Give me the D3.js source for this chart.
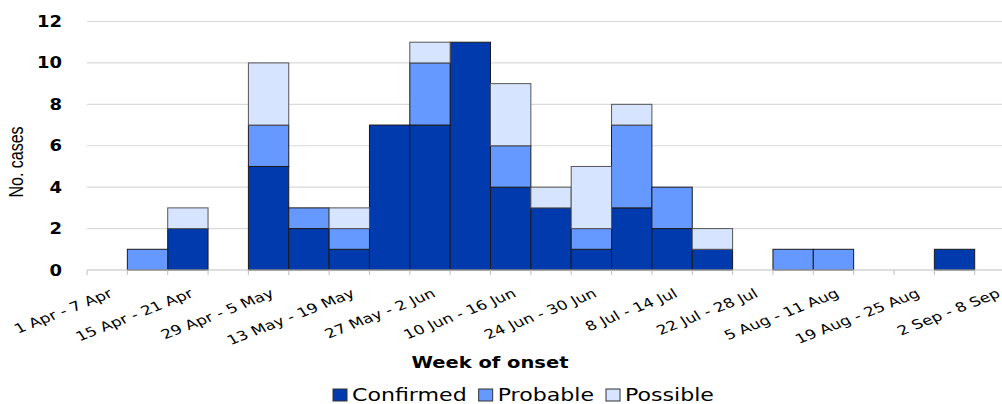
<!DOCTYPE html>
<html>
<head>
<meta charset="utf-8">
<script src="https://cdn.jsdelivr.net/npm/d3@7"></script>
<style>
  body { margin: 0; background: #fff; }
  svg { display: block; }
  text { font-family: "DejaVu Sans", Verdana, sans-serif; fill: #000; }
</style>
</head>
<body>
<svg id="chart" width="1002" height="404"></svg>
<script>
// week of onset, one entry per week
var weeks = ["1 Apr - 7 Apr","8 Apr - 14 Apr","15 Apr - 21 Apr","22 Apr - 28 Apr","29 Apr - 5 May",
  "6 May - 12 May","13 May - 19 May","20 May - 26 May","27 May - 2 Jun","3 Jun - 9 Jun",
  "10 Jun - 16 Jun","17 Jun - 23 Jun","24 Jun - 30 Jun","1 Jul - 7 Jul","8 Jul - 14 Jul",
  "15 Jul - 21 Jul","22 Jul - 28 Jul","29 Jul - 4 Aug","5 Aug - 11 Aug","12 Aug - 18 Aug",
  "19 Aug - 25 Aug","26 Aug - 1 Sep","2 Sep - 8 Sep"];
var confirmed = [0,0,2,0,5,2,1,7,7,11,4,3,1,3,2,1,0,0,0,0,0,1,0];
var probable  = [0,1,0,0,2,1,1,0,3,0,2,0,1,4,2,0,0,1,1,0,0,0,0];
var possible  = [0,0,1,0,3,0,1,0,1,0,3,1,3,1,0,1,0,0,0,0,0,0,0];
var seriesNames = ["Confirmed","Probable","Possible"];
var yTicks = [0,2,4,6,8,10,12];

var colors = {"Confirmed":"#003aad","Probable":"#6699ff","Possible":"#d6e4ff"};
var SX = 1.3; // the picture is stretched sideways

var svg = d3.select("#chart");
var plotLeft = 87, bandW = 40.35, plotTop = 21.5, plotBottom = 270;

var x = d3.scaleBand().domain(weeks).range([plotLeft, plotLeft + bandW*weeks.length]).padding(0);
var y = d3.scaleLinear().domain([0,12]).range([plotBottom, plotTop]);

var rows = weeks.map(function(w,i){
  return {week:w, Confirmed:confirmed[i], Probable:probable[i], Possible:possible[i]};
});
var stacked = d3.stack().keys(seriesNames)(rows);

// grid
svg.append("g").selectAll("line").data(yTicks.filter(function(d){return d>0;})).join("line")
  .attr("x1", plotLeft).attr("x2", x.range()[1])
  .attr("y1", function(d){return y(d);}).attr("y2", function(d){return y(d);})
  .attr("stroke", "#d9d9d9").attr("stroke-width", 1.2);

// y tick labels
svg.append("g").selectAll("text").data(yTicks).join("text")
  .attr("text-anchor","end")
  .attr("transform", function(d){return "translate(62,"+y(d)+") scale(1.2,1)";})
  .attr("dy","0.37em")
  .style("font-size","15px").style("font-weight","bold")
  .text(function(d){return d;});

// bars
svg.append("g").selectAll("g").data(stacked).join("g")
  .attr("fill", function(s){return colors[s.key];})
  .attr("stroke", function(s){return s.key=="Possible" ? "#555" : "#1a1a1a";})
  .selectAll("rect").data(function(s){return s.filter(function(d){return d[1]-d[0]>0;});}).join("rect")
  .attr("x", function(d){return x(d.data.week);})
  .attr("width", x.bandwidth())
  .attr("y", function(d){return y(d[1]);})
  .attr("height", function(d){return y(d[0])-y(d[1]);})
  .attr("stroke-width", 1);

// x axis
var xAxis = svg.append("g");
xAxis.append("line").attr("x1", plotLeft).attr("x2", x.range()[1])
  .attr("y1", plotBottom).attr("y2", plotBottom).attr("stroke","#bfbfbf").attr("stroke-width",1.2);
xAxis.selectAll("line.tick").data(d3.range(weeks.length+1)).join("line")
  .attr("class","tick")
  .attr("x1", function(i){return plotLeft + i*x.step();}).attr("x2", function(i){return plotLeft + i*x.step();})
  .attr("y1", plotBottom).attr("y2", plotBottom+5).attr("stroke","#bfbfbf");
xAxis.selectAll("text").data(weeks.filter(function(w,i){return i%2==0;})).join("text")
  .attr("text-anchor","end")
  .attr("transform", function(w){
    return "translate("+(x(w)+x.bandwidth()/2+1)+","+(plotBottom+18)+") scale("+SX+",1) rotate(-27)";
  })
  .attr("dy","0.72em")
  .style("font-size","13px")
  .text(function(w){return w;});

// axis titles
svg.append("text").attr("text-anchor","middle")
  .attr("transform","translate(23,162) scale(1.25,1) rotate(-90)")
  .style("font-family","'Liberation Sans', Arial, sans-serif").style("font-size","16px")
  .text("No. cases");

svg.append("text").attr("text-anchor","middle")
  .attr("transform","translate(490,368) scale("+SX+",1)")
  .style("font-size","15px").style("font-weight","bold")
  .text("Week of onset");

// legend
var legend = svg.append("g");
var lx = 333;
seriesNames.forEach(function(name){
  legend.append("rect").attr("x", lx).attr("y", 389).attr("width", 14).attr("height", 12)
    .attr("fill", colors[name]).attr("stroke", "#333").attr("stroke-width", 1);
  var t = legend.append("text")
    .attr("transform","translate("+(lx+19)+",401) scale("+SX+",1)")
    .style("font-size","17px").text(name);
  lx = lx + 19 + t.node().getComputedTextLength()*SX + 12;
});
</script>
</body>
</html>
